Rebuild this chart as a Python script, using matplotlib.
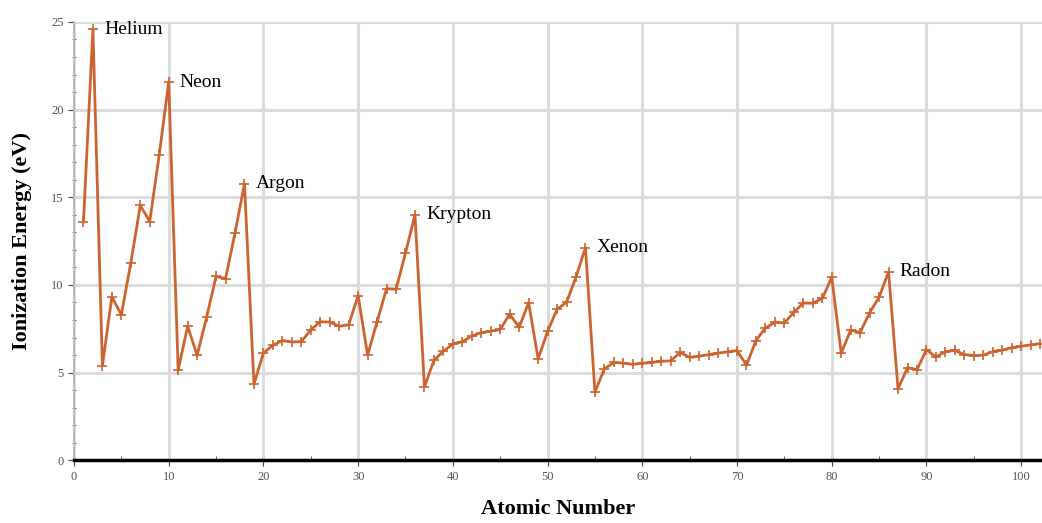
import matplotlib.pyplot as plt
from matplotlib.ticker import MultipleLocator

# 第一イオン化エネルギー (eV), Z = 1..102
atomic_number = list(range(1, 103))
energy = [
    13.598, 24.587, 5.392, 9.323, 8.298, 11.260, 14.534, 13.618, 17.423, 21.565,
    5.139, 7.646, 5.986, 8.152, 10.487, 10.360, 12.968, 15.760, 4.341, 6.113,
    6.561, 6.828, 6.746, 6.767, 7.434, 7.902, 7.881, 7.640, 7.726, 9.394,
    5.999, 7.900, 9.789, 9.752, 11.814, 14.000, 4.177, 5.695, 6.217, 6.634,
    6.759, 7.092, 7.280, 7.361, 7.459, 8.337, 7.576, 8.994, 5.786, 7.344,
    8.608, 9.010, 10.451, 12.130, 3.894, 5.212, 5.577, 5.539, 5.473, 5.525,
    5.582, 5.644, 5.670, 6.150, 5.864, 5.939, 6.022, 6.108, 6.184, 6.254,
    5.426, 6.825, 7.550, 7.864, 7.834, 8.438, 8.967, 8.959, 9.226, 10.438,
    6.108, 7.417, 7.286, 8.417, 9.300, 10.748, 4.073, 5.278, 5.170, 6.307,
    5.890, 6.194, 6.266, 6.026, 5.974, 5.991, 6.198, 6.282, 6.420, 6.500,
    6.580, 6.650,
]

noble_names = ["Helium", "Neon", "Argon", "Krypton", "Xenon", "Radon"]
noble_z = [2, 10, 18, 36, 54, 86]

plt.rcParams['font.family'] = ['Liberation Serif', 'DejaVu Serif']

fig = plt.figure(figsize=(10.42, 5.23), dpi=100)
ax = fig.add_axes([0.071, 0.120, 0.929, 0.838])

ax.plot(atomic_number, energy, color='#cd6430', lw=2.0, marker='+',
        markersize=7, markeredgewidth=1.2, zorder=3)

for name, z in zip(noble_names, noble_z):
    ax.annotate(name, (z, energy[z - 1]), xytext=(8, 0), textcoords='offset points',
                va='center', ha='left', fontsize=14)

ax.set_xlim(0, 102.2)
ax.set_ylim(0, 25)
ax.xaxis.set_major_locator(MultipleLocator(10))
ax.xaxis.set_minor_locator(MultipleLocator(5))
ax.yaxis.set_major_locator(MultipleLocator(5))
ax.yaxis.set_minor_locator(MultipleLocator(1))

ax.grid(True, which='major', color='#dcdcdc', lw=2.2, zorder=0)
ax.set_axisbelow(True)

for s in ['top', 'right']:
    ax.spines[s].set_visible(False)
ax.spines['left'].set_color('#bbbbbb')
ax.spines['left'].set_linewidth(1.5)
ax.spines['bottom'].set_color('black')
ax.spines['bottom'].set_linewidth(2.5)

ax.tick_params(axis='both', which='major', labelsize=9, labelcolor='#555555',
               color='#444444', length=4)
ax.tick_params(axis='x', which='minor', direction='in', length=3, color='#444444')
ax.tick_params(axis='y', which='minor', direction='inout', length=3, color='#555555')

ax.set_xlabel('Atomic Number', fontsize=16, fontweight='bold', labelpad=12)
ax.set_ylabel('Ionization Energy (eV)', fontsize=16, fontweight='bold', labelpad=14)

fig.savefig('out.png', dpi=100)
